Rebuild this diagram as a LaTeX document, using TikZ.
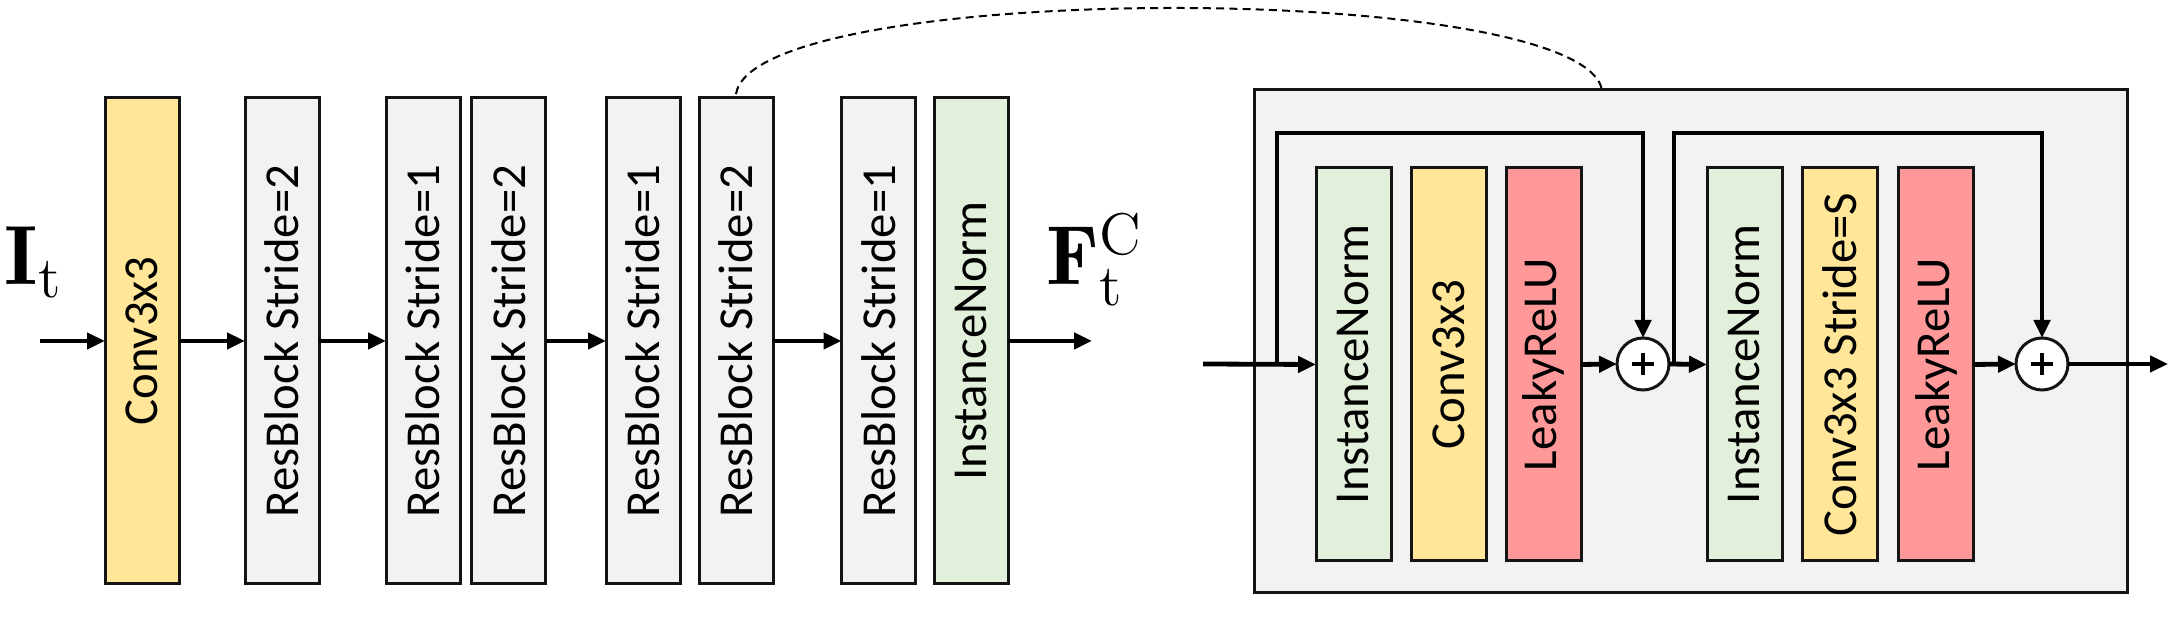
\RequirePackage{fix-cm}
\documentclass[tikz,border=0pt]{standalone}
\usepackage{fontspec}
\newfontfamily\carl{Carlito}
\usetikzlibrary{arrows.meta}
\definecolor{cyel}{RGB}{255,230,153}
\definecolor{cgray}{RGB}{242,242,242}
\definecolor{cgreen}{RGB}{226,239,218}
\definecolor{cred}{RGB}{255,153,153}
\definecolor{cline}{RGB}{20,20,20}
\begin{document}
\begin{tikzpicture}[x=0.25pt,y=-0.25pt,
  blk/.style={draw=cline,line width=0.75pt,minimum width=18.5pt,minimum height=121.5pt,inner sep=0pt,outer sep=0pt},
  iblk/.style={blk,minimum width=18.75pt,minimum height=98.25pt},
  lbl/.style={rotate=90,font=\carl\fontsize{12.2}{14}\selectfont,inner sep=0pt},
  ilbl/.style={rotate=90,font=\carl\fontsize{12.2}{14}\selectfont,inner sep=0pt},
  arr/.style={line width=1.2pt,-{Triangle[length=4.5pt,width=4pt]}},
  addc/.style={circle,draw=cline,fill=white,line width=0.75pt,minimum size=13pt,inner sep=0pt,outer sep=0pt},
  mathlbl/.style={anchor=base west,inner sep=0pt,font=\fontsize{21}{25}\selectfont},
]
\fill[white] (0,0) rectangle (2184,618);
\useasboundingbox (0,0) rectangle (2184,618);

% ---------- left chain ----------
\node[blk,fill=cyel]   (conv) at (142,341) {};
\node[blk,fill=cgray]  (rb1)  at (282,341) {};
\node[blk,fill=cgray]  (rb2)  at (423,341) {};
\node[blk,fill=cgray]  (rb3)  at (508.5,341) {};
\node[blk,fill=cgray]  (rb4)  at (643,341) {};
\node[blk,fill=cgray]  (rb5)  at (736,341) {};
\node[blk,fill=cgray]  (rb6)  at (878.5,341) {};
\node[blk,fill=cgreen] (inorm) at (971,341) {};

\node[lbl] (tconv) at (conv) {Conv3x3};
\node[lbl] (trb1) at (rb1) {ResBlock Stride=2};
\node[lbl] (trb2) at (rb2) {ResBlock Stride=1};
\node[lbl] (trb3) at (rb3) {ResBlock Stride=2};
\node[lbl] (trb4) at (rb4) {ResBlock Stride=1};
\node[lbl] (trb5) at (rb5) {ResBlock Stride=2};
\node[lbl] (trb6) at (rb6) {ResBlock Stride=1};
\node[lbl] (tinorm) at (inorm) {InstanceNorm};

\node[mathlbl] (it) at (4,285) {$\mathbf{I}_\mathrm{t}$};
\node[mathlbl] (fc) at (1046,285) {$\mathbf{F}_\mathrm{t}^\mathrm{C}$};

\coordinate (lin) at (40,341);
\coordinate (lout) at (1092,341);
\draw[arr] (lin) -- (conv.west);
\draw[arr] (conv.east) -- (rb1.west);
\draw[arr] (rb1.east) -- (rb2.west);
\draw[arr] (rb3.east) -- (rb4.west);
\draw[arr] (rb5.east) -- (rb6.west);
\draw[arr] (inorm.east) -- (lout);

% ---------- residual block detail ----------
\node[draw=cline,fill=cgray,line width=0.75pt,minimum width=218.25pt,minimum height=125.75pt,inner sep=0pt] (big) at (1690.5,341.5) {};

\node[iblk,fill=cgreen] (in1) at (1353.5,364.5) {};
\node[iblk,fill=cyel]   (cv1) at (1449,364.5) {};
\node[iblk,fill=cred]   (lr1) at (1543.5,364.5) {};
\node[addc] (p1) at (1643,364) {};
\node[iblk,fill=cgreen] (in2) at (1744.5,364.5) {};
\node[iblk,fill=cyel]   (cv2) at (1840,364.5) {};
\node[iblk,fill=cred]   (lr2) at (1936,364.5) {};
\node[addc] (p2) at (2042,364) {};

\node[ilbl] (tin1) at (in1) {InstanceNorm};
\node[ilbl] (tcv1) at (cv1) {Conv3x3};
\node[ilbl] (tlr1) at (lr1) {LeakyReLU};
\node[ilbl] (tin2) at (in2) {InstanceNorm};
\node[ilbl] (tcv2) at (cv2) {Conv3x3 Stride=S};
\node[ilbl] (tlr2) at (lr2) {LeakyReLU};

\foreach \p in {p1,p2}{
  \draw[line width=1pt] ([xshift=-2.8pt]\p.center) -- ([xshift=2.8pt]\p.center);
  \draw[line width=1pt] ([yshift=-2.8pt]\p.center) -- ([yshift=2.8pt]\p.center);
}

\coordinate (rin) at (1203,364);
\coordinate (j1) at (1277,364);
\coordinate (j2) at (1674,364);
\coordinate (rout) at (2168,364);

\draw[arr] (rin) -- (in1.west);
\draw[arr] (j1) -- ++(0,-231) -| (p1.north);
\draw[arr] (lr1.east) -- (p1.west);
\draw[arr] (p1.east) -- (in2.west);
\draw[arr] (j2) -- ++(0,-231) -| (p2.north);
\draw[arr] (lr2.east) -- (p2.west);
\draw[arr] (p2.east) -- (rout);

% ---------- zoom link ----------
\coordinate (dend) at (1602,90);
\draw[line width=0.5pt,dash pattern=on 2pt off 1.3pt] ([yshift=1pt]rb5.north) .. controls (754,-20) and (1582,-20) .. (dend);
\end{tikzpicture}
\end{document}
